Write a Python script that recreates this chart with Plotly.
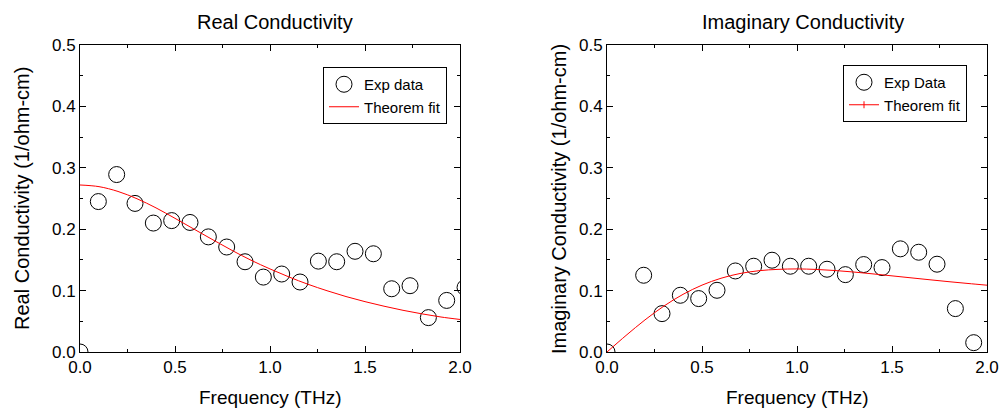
import plotly.graph_objects as go

# ---- data ----
step = 0.0965
real_idx = list(range(22))
real_freq = [i * step for i in real_idx]
real_exp = [0.0, 0.245, 0.289, 0.242, 0.210, 0.214, 0.211, 0.1875, 0.171, 0.147, 0.122,
            0.127, 0.114, 0.148, 0.147, 0.164, 0.160, 0.103, 0.108, 0.056, 0.084, 0.105]

imag_idx = [0] + list(range(2, 21))
imag_freq = [i * step for i in imag_idx]
imag_exp = [0.0, 0.125, 0.0625, 0.0924, 0.087, 0.1005, 0.132, 0.1397, 0.1495, 0.1397,
            0.1397, 0.1348, 0.126, 0.1424, 0.1375, 0.168, 0.1625, 0.143, 0.0707, 0.0152]

fit_freq = [0.0, 0.1, 0.2, 0.3, 0.4, 0.5, 0.6, 0.7, 0.8, 0.9, 1.0,
            1.1, 1.2, 1.3, 1.4, 1.5, 1.6, 1.7, 1.8, 1.9, 2.0]
real_fit = [0.272, 0.2693, 0.2615, 0.2496, 0.2347, 0.2177, 0.2001, 0.1826, 0.1655, 0.1495, 0.1353,
            0.1222, 0.1103, 0.0998, 0.0903, 0.0820, 0.0746, 0.0679, 0.0621, 0.0570, 0.0530]
imag_fit = [0.0, 0.0269, 0.0523, 0.0749, 0.0939, 0.1089, 0.1201, 0.1278, 0.1324, 0.1346, 0.1353,
            0.1345, 0.1327, 0.1302, 0.1272, 0.1240, 0.1208, 0.1176, 0.1145, 0.1116, 0.1088]

x_ticks = [0.0, 0.5, 1.0, 1.5, 2.0]
y_ticks = [0.0, 0.1, 0.2, 0.3, 0.4, 0.5]

FONT = "Arial, Liberation Sans, sans-serif"
W, H = 1004, 414

fig = go.Figure()

circle = dict(symbol="circle-open", size=16, color="black", line=dict(width=1, color="black"))

fig.add_trace(go.Scatter(x=real_freq, y=real_exp, mode="markers", marker=circle,
                         name="Exp data", xaxis="x", yaxis="y", legend="legend"))
fig.add_trace(go.Scatter(x=fit_freq, y=real_fit, mode="lines", line=dict(color="red", width=1, shape="spline"),
                         name="Theorem fit", xaxis="x", yaxis="y", legend="legend"))

fig.add_trace(go.Scatter(x=imag_freq, y=imag_exp, mode="markers", marker=circle,
                         name="Exp Data", xaxis="x2", yaxis="y2", legend="legend2"))
fig.add_trace(go.Scatter(x=fit_freq, y=imag_fit, mode="lines", line=dict(color="red", width=1, shape="spline"),
                         name="Theorem fit", xaxis="x2", yaxis="y2", showlegend=False))
fig.add_trace(go.Scatter(x=[None], y=[None], mode="lines+markers",
                         line=dict(color="red", width=1),
                         marker=dict(symbol="line-ns", size=5, color="red", line=dict(width=1, color="red")),
                         name="Theorem fit", xaxis="x2", yaxis="y2", legend="legend2"))


def xax(domain, anchor):
    return dict(domain=domain, anchor=anchor, range=[0, 2.0], tickvals=x_ticks, tickformat=".1f",
                showline=True, linecolor="black", linewidth=1, mirror="ticks",
                ticks="inside", ticklen=6, tickcolor="black", showgrid=False, zeroline=False,
                minor=dict(ticks="inside", ticklen=3, dtick=0.25, tickcolor="black", showgrid=False),
                tickfont=dict(size=17, color="black", family=FONT), automargin=False)


def yax(domain, anchor):
    return dict(domain=domain, anchor=anchor, range=[0, 0.5], tickvals=y_ticks, tickformat=".1f",
                showline=True, linecolor="black", linewidth=1, mirror="ticks",
                ticks="inside", ticklen=6, tickcolor="black", showgrid=False, zeroline=False,
                minor=dict(ticks="inside", ticklen=3, dtick=0.05, tickcolor="black", showgrid=False),
                tickfont=dict(size=17, color="black", family=FONT), automargin=False)


def ann(text, xpx, ypx, size, angle=0):
    return dict(text=text, x=xpx / W, y=1 - ypx / H, xref="paper", yref="paper",
                showarrow=False, textangle=angle, xanchor="center", yanchor="middle",
                font=dict(size=size, family=FONT, color="black"))


ydom = [62 / H, 369 / H]
legend_common = dict(xanchor="left", yanchor="top", bordercolor="black", borderwidth=1,
                     bgcolor="white", font=dict(size=15, family=FONT, color="black"),
                     tracegroupgap=0, itemwidth=30)
fig.update_layout(
    width=W, height=H,
    margin=dict(l=0, r=0, t=0, b=0),
    paper_bgcolor="white", plot_bgcolor="white",
    font=dict(family=FONT, color="black"),
    xaxis=xax([80 / W, 460 / W], "y"),
    yaxis=yax(ydom, "x"),
    xaxis2=xax([607 / W, 987 / W], "y2"),
    yaxis2=yax(ydom, "x2"),
    legend=dict(x=323 / W, y=1 - 67 / H, **legend_common),
    legend2=dict(x=843 / W, y=1 - 65 / H, **legend_common),
    showlegend=True,
    annotations=[
        ann("Real Conductivity", 275, 22, 20),
        ann("Imaginary Conductivity", 803, 22, 20),
        ann("Frequency (THz)", 270, 397, 19),
        ann("Frequency (THz)", 797, 397, 19),
        ann("Real Conductivity (1/ohm-cm)", 22, 199, 20, -90),
        ann("Imaginary Conductivity (1/ohm-cm)", 559, 199, 20, -90),
    ],
)

fig.write_html("out.html", config={"displayModeBar": False},
               post_script="document.body.style.margin='0';document.body.style.overflow='hidden';")
